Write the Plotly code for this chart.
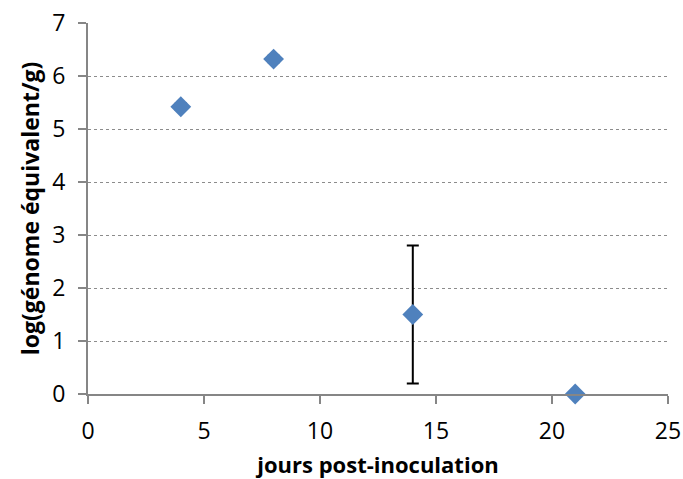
import plotly.graph_objects as go

days = [4, 8, 14, 21]
log_ge = [5.42, 6.32, 1.5, 0.0]
err = [0.06, 0.06, 1.3, 0.0]

x_ticks = [0, 5, 10, 15, 20, 25]
y_ticks = [0, 1, 2, 3, 4, 5, 6, 7]

fig = go.Figure()
fig.add_trace(go.Scatter(
    x=days, y=log_ge, mode="markers",
    marker=dict(symbol="diamond", size=16, color="#4F81BD"),
    error_y=dict(type="data", array=err, visible=True, color="black", thickness=2, width=6),
    cliponaxis=False,
))
fig.update_layout(
    width=683, height=479,
    margin=dict(l=88, r=15, t=23, b=85),
    paper_bgcolor="white", plot_bgcolor="white",
    showlegend=False,
    font=dict(family="Open Sans, Liberation Sans, sans-serif", color="black"),
)
fig.update_xaxes(
    range=[0, 25], tickvals=x_ticks, automargin=False,
    showline=True, linecolor="#868686", linewidth=2,
    ticks="outside", ticklen=8, tickcolor="#868686", tickwidth=2,
    showgrid=False, zeroline=False,
    tickfont=dict(size=23), ticklabelstandoff=7,
    title=dict(text="<b>jours post-inoculation</b>", font=dict(size=22), standoff=15),
)
fig.update_yaxes(
    range=[0, 7], tickvals=y_ticks, automargin=False,
    showline=True, linecolor="#868686", linewidth=2,
    ticks="outside", ticklen=8, tickcolor="#868686", tickwidth=2,
    showgrid=True, gridcolor="#8c8c8c", griddash="dot", gridwidth=1,
    zeroline=False,
    tickfont=dict(size=23), ticklabelstandoff=8,
    title=dict(text="<b>log(génome équivalent/g)</b>", font=dict(size=23), standoff=6),
)
fig.write_html(
    "out.html",
    config={"displayModeBar": False, "responsive": False},
    post_script="document.body.style.margin='0';document.body.style.overflow='hidden';document.documentElement.style.overflow='hidden';",
)
